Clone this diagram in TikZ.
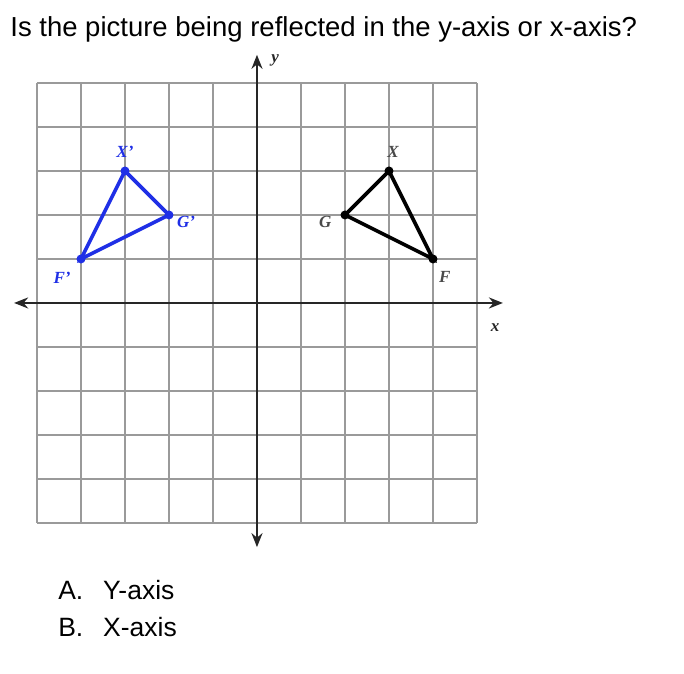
\documentclass[tikz,border=0pt]{standalone}
\usepackage{fontspec}
\setmainfont{Liberation Serif}
\newfontfamily\helv{Liberation Sans}
\usetikzlibrary{arrows.meta}
\definecolor{gridgray}{HTML}{9A9A9A}
\definecolor{axisdark}{HTML}{262626}
\definecolor{imageblue}{HTML}{1F2FE6}
\definecolor{labelgray}{HTML}{4A4A4A}

\begin{document}
\begin{tikzpicture}[
  x=44pt,y=44pt,
  gridline/.style={gridgray,line width=1.6pt},
  axis/.style={axisdark,line width=2.6pt,-{Stealth[length=14pt,width=11pt]}},
  vertex/.style={circle,fill,inner sep=0pt,minimum size=9pt},
  side/.style={line width=3.6pt},
  ptlabel/.style={font=\bfseries\itshape\fontsize{17}{17}\selectfont,inner sep=0pt},
  answer/.style={anchor=base west,font=\helv\fontsize{26.5}{28}\selectfont},
  every node/.style={inner sep=0pt}
]
  \useasboundingbox (-5.841,-8.432) rectangle (9.705,6.886);
  % question
  \node[anchor=base west,font=\helv\fontsize{27.5}{30}\selectfont] (question) at (-5.61,6.05)
    {Is the picture being reflected in the y-axis or x-axis?};
  % grid and axes
  \draw[gridline,step={(1,1)}] (-5,-5) grid (5,5);
  \coordinate (xleft) at (-5.52,0);
  \coordinate (xright) at (5.59,0);
  \coordinate (ybottom) at (0,-5.55);
  \coordinate (ytop) at (0,5.64);
  \draw[axis] (0,0) -- (xleft);
  \draw[axis] (0,0) -- (xright);
  \draw[axis] (0,0) -- (ybottom);
  \draw[axis] (0,0) -- (ytop);
  \node[ptlabel,text=axisdark] (ylab) at (0.41,5.52) {y};
  \node[ptlabel,text=axisdark] (xlab) at (5.41,-0.55) {x};
  % original triangle
  \node[vertex,black] (X) at (3,3) {};
  \node[vertex,black] (G) at (2,2) {};
  \node[vertex,black] (F) at (4,1) {};
  \draw[side,black] (X.center) -- (G.center) -- (F.center) -- cycle;
  \node[ptlabel,text=labelgray] (Xlab) at (3.09,3.43) {X};
  \node[ptlabel,text=labelgray] (Glab) at (1.55,1.84) {G};
  \node[ptlabel,text=labelgray] (Flab) at (4.27,0.59) {F};
  % reflected triangle
  \node[vertex,imageblue] (Xp) at (-3,3) {};
  \node[vertex,imageblue] (Gp) at (-2,2) {};
  \node[vertex,imageblue] (Fp) at (-4,1) {};
  \draw[side,imageblue] (Xp.center) -- (Gp.center) -- (Fp.center) -- cycle;
  \node[ptlabel,text=imageblue] (Xplab) at (-3,3.43) {X'};
  \node[ptlabel,text=imageblue] (Gplab) at (-1.61,1.84) {G'};
  \node[ptlabel,text=imageblue] (Fplab) at (-4.43,0.57) {F'};
  % answers
  \node[answer] (ansA) at (-4.52,-6.73) {A.};
  \node[answer] (ansAtext) at (-3.5,-6.73) {Y-axis};
  \node[answer] (ansB) at (-4.52,-7.57) {B.};
  \node[answer] (ansBtext) at (-3.5,-7.57) {X-axis};
\end{tikzpicture}
\end{document}
